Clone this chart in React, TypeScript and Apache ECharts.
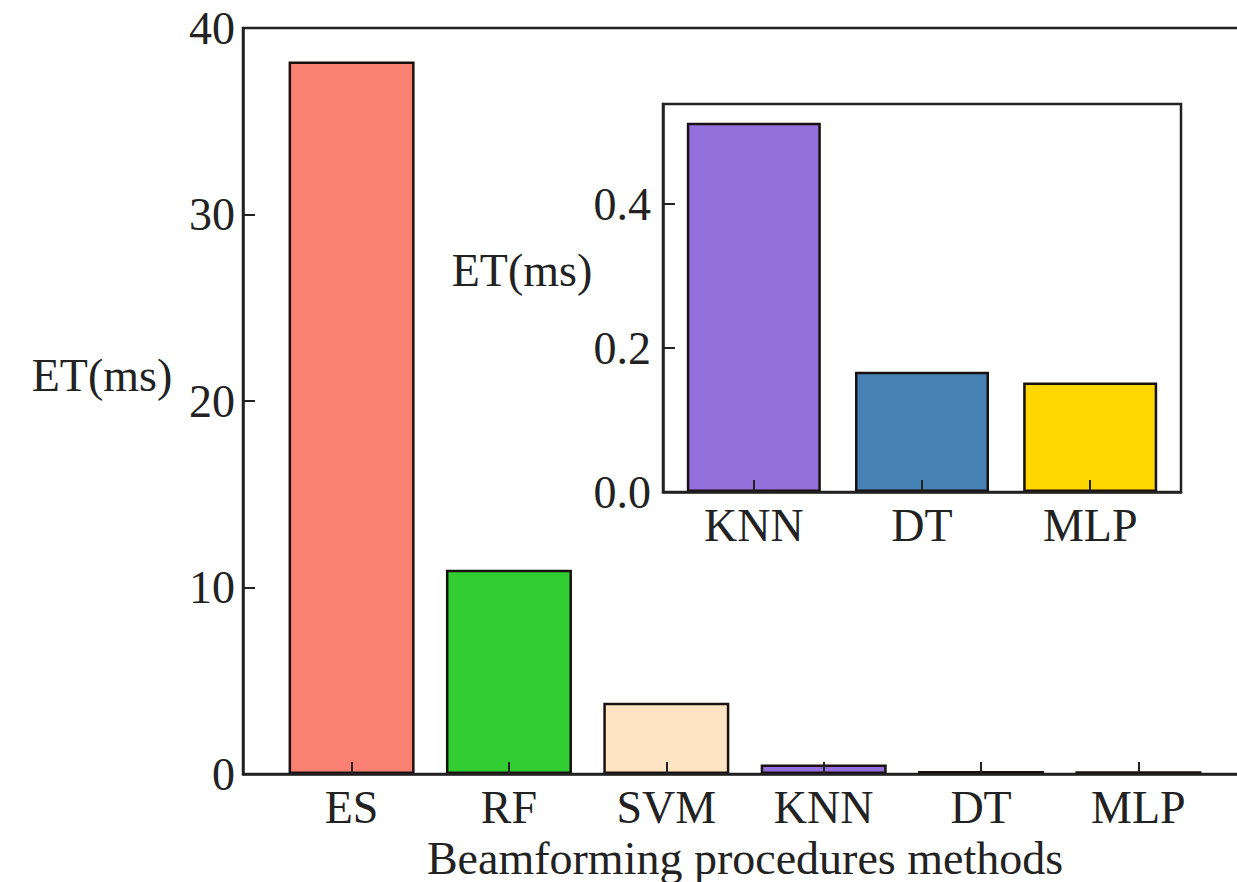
import React, { useEffect, useRef } from "react";
import * as echarts from "echarts";

const mainCategories = ["ES", "RF", "SVM", "KNN", "DT", "MLP"];
const mainValues = [38.2, 10.95, 3.82, 0.51, 0.167, 0.152];
const mainColors = ["#FA8072", "#32CD32", "#FFE4C4", "#9370DB", "#4682B4", "#FFD700"];
const mainYTicks = [0, 10, 20, 30, 40];

const insetCategories = ["KNN", "DT", "MLP"];
const insetValues = [0.513, 0.167, 0.152];
const insetColors = ["#9370DB", "#4682B4", "#FFD700"];
const insetYTicks = [0, 0.2, 0.4];

const FONT = "'Liberation Serif', 'Times New Roman', serif";
const FS = 46;
const INK = "#222";

export default function App() {
  const ref = useRef<HTMLDivElement>(null);
  useEffect(() => {
    document.body.style.margin = "0";
    document.body.style.overflow = "hidden";
    document.documentElement.style.overflow = "hidden";
    const chart = echarts.init(ref.current!, null, { renderer: "svg" });
    const axisLine = { show: true, onZero: false, lineStyle: { color: INK, width: 2.5 } };
    const label = { color: INK, fontFamily: FONT, fontSize: FS };
    chart.setOption({
      animation: false,
      backgroundColor: "#fff",
      textStyle: { fontFamily: FONT },
      grid: [
        { left: 243, top: 28, width: 1004, height: 746, show: true, borderColor: INK, borderWidth: 2.5, backgroundColor: "transparent", containLabel: false },
        { left: 663, top: 104, width: 518, height: 388, show: true, borderColor: INK, borderWidth: 2.5, backgroundColor: "#fff", containLabel: false, z: 1 },
      ],
      xAxis: [
        {
          type: "value", gridIndex: 0, min: -0.69, max: 5.69, z: 5,
          axisLine, splitLine: { show: false },
          axisTick: { show: true, inside: true, length: 12, lineStyle: { color: INK, width: 2 }, customValues: mainCategories.map((_, i) => i) },
          axisLabel: { ...label, margin: 10, customValues: mainCategories.map((_, i) => i), formatter: (v: number) => mainCategories[Math.round(v)] ?? "" },
        },
        {
          type: "value", gridIndex: 1, min: -0.54, max: 2.54, z: 5,
          axisLine, splitLine: { show: false },
          axisTick: { show: true, inside: true, length: 12, lineStyle: { color: INK, width: 2 }, customValues: insetCategories.map((_, i) => i) },
          axisLabel: { ...label, margin: 10, customValues: insetCategories.map((_, i) => i), formatter: (v: number) => insetCategories[Math.round(v)] ?? "" },
        },
      ],
      yAxis: [
        {
          type: "value", gridIndex: 0, min: 0, max: 40, z: 5,
          axisLine, splitLine: { show: false },
          axisTick: { show: true, inside: true, length: 12, lineStyle: { color: INK, width: 2 }, customValues: mainYTicks },
          axisLabel: { ...label, margin: 8, customValues: mainYTicks, formatter: (v: number) => String(v) },
        },
        {
          type: "value", gridIndex: 1, min: 0, max: 0.539, z: 5,
          axisLine, splitLine: { show: false },
          axisTick: { show: true, inside: true, length: 12, lineStyle: { color: INK, width: 2 }, customValues: insetYTicks },
          axisLabel: { ...label, margin: 12, customValues: insetYTicks, formatter: (v: number) => v.toFixed(1) },
        },
      ],
      series: [
        {
          type: "bar", xAxisIndex: 0, yAxisIndex: 0, barWidth: 126, z: 2,
          data: mainValues.map((v, i) => ({ value: [i, v], itemStyle: { color: mainColors[i] } })),
          itemStyle: { borderColor: "#1a1010", borderWidth: 2.5 },
        },
        {
          type: "bar", xAxisIndex: 1, yAxisIndex: 1, barWidth: 134, z: 2,
          data: insetValues.map((v, i) => ({ value: [i, v], itemStyle: { color: insetColors[i] } })),
          itemStyle: { borderColor: "#1a1010", borderWidth: 2.5 },
        },
      ],
      graphic: [
        { type: "text", x: 102, y: 375, style: { text: "ET(ms)", fill: INK, font: `${FS}px ${FONT}`, textAlign: "center", textVerticalAlign: "middle" } },
        { type: "text", x: 522, y: 270, style: { text: "ET(ms)", fill: INK, font: `${FS}px ${FONT}`, textAlign: "center", textVerticalAlign: "middle" } },
        { type: "text", x: 745, y: 858, style: { text: "Beamforming procedures methods", fill: INK, font: `${FS}px ${FONT}`, textAlign: "center", textVerticalAlign: "middle" } },
      ],
    });
    return () => chart.dispose();
  }, []);
  return <div ref={ref} style={{ width: 1260, height: 882 }} />;
}
